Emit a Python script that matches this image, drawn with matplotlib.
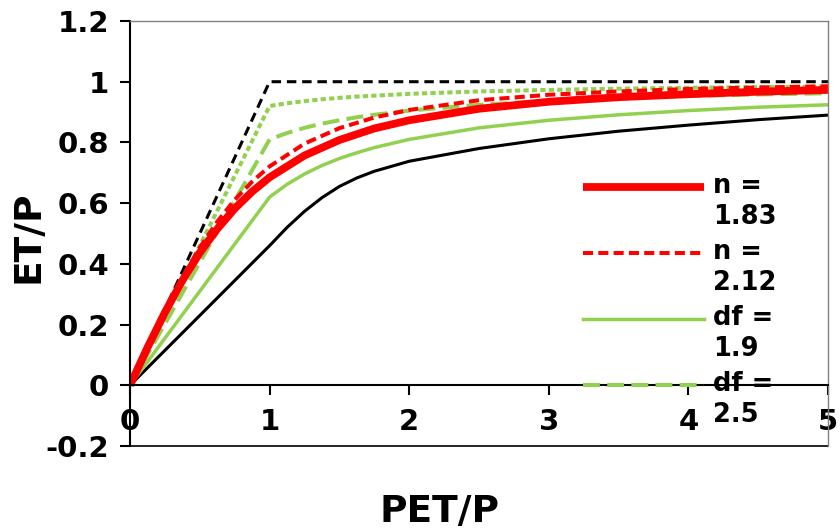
import numpy as np
import matplotlib
matplotlib.use("Agg")
import matplotlib.pyplot as plt
from matplotlib.legend_handler import HandlerLine2D

# ---------------- DATA ----------------
# energy / water limits
limit_x = [0, 1, 5]
limit_y = [0, 1, 1]

# smooth curves (n parameter)
pet_smooth = [0, 0.125, 0.25, 0.375, 0.5, 0.625, 0.75, 0.875, 1,
              1.25, 1.5, 1.75, 2, 2.5, 3, 3.5, 4, 4.5, 5]
et_n183 = [0, 0.124, 0.240, 0.345, 0.437, 0.515, 0.582, 0.638, 0.685,
           0.757, 0.808, 0.846, 0.873, 0.911, 0.934, 0.949, 0.959, 0.967, 0.973]
et_n212 = [0, 0.124, 0.244, 0.355, 0.454, 0.539, 0.611, 0.671, 0.721,
           0.796, 0.847, 0.882, 0.907, 0.939, 0.957, 0.968, 0.976, 0.981, 0.985]

# curves with a break at PET/P = 1
pet_kink = [0, 1, 1.125, 1.25, 1.375, 1.5, 1.625, 1.75, 2, 2.5, 3, 3.5, 4, 4.5, 5]
et_df19 = [0, 0.62, 0.662, 0.696, 0.724, 0.747, 0.766, 0.783, 0.81, 0.848,
           0.873, 0.891, 0.905, 0.916, 0.924]
et_df25 = [0, 0.81, 0.831, 0.848, 0.862, 0.873, 0.883, 0.891, 0.905, 0.924,
           0.937, 0.946, 0.953, 0.958, 0.962]
et_dotted = [0, 0.92, 0.929, 0.936, 0.942, 0.947, 0.951, 0.954, 0.96, 0.968,
             0.973, 0.977, 0.98, 0.982, 0.984]
et_black = [0, 0.46, 0.52, 0.573, 0.618, 0.655, 0.683, 0.705, 0.738, 0.78,
            0.812, 0.837, 0.857, 0.875, 0.89]

x_ticks = [0, 1, 2, 3, 4, 5]
y_ticks = [-0.2, 0, 0.2, 0.4, 0.6, 0.8, 1.0, 1.2]
y_labels = ["-0.2", "0", "0.2", "0.4", "0.6", "0.8", "1", "1.2"]
legend_labels = ["n =\n1.83", "n =\n2.12", "df =\n1.9", "df =\n2.5"]

RED = "#FF0000"
GREEN = "#92D050"


class FirstLineHandler(HandlerLine2D):
    """Put the legend line level with the first text line."""
    def create_artists(self, legend, orig_handle, xdescent, ydescent,
                       width, height, fontsize, trans):
        arts = super().create_artists(legend, orig_handle, xdescent, ydescent,
                                      width, height, fontsize, trans)
        for a in arts:
            a.set_ydata(np.asarray(a.get_ydata()) + 0.62 * fontsize)
        return arts


plt.rcParams["font.family"] = ["DejaVu Sans"]
plt.rcParams["font.weight"] = "bold"

fig = plt.figure(figsize=(8.4, 5.29), dpi=100)
ax = fig.add_axes([130 / 840, 83 / 529, 698 / 840, 425 / 529])

ax.plot(limit_x, limit_y, color="black", lw=2.2, linestyle=(0, (3.1, 1.9)))
ax.plot(pet_kink, et_black, color="black", lw=2.2)
l_df19, = ax.plot(pet_kink, et_df19, color=GREEN, lw=2.5)
l_df25, = ax.plot(pet_kink, et_df25, color=GREEN, lw=2.9, linestyle=(0, (4.2, 1.8)))
ax.plot(pet_kink, et_dotted, color=GREEN, lw=2.9, linestyle=(0, (1.3, 0.8)))
l_n183, = ax.plot(pet_smooth, et_n183, color=RED, lw=5.6, solid_capstyle="butt")
l_n212, = ax.plot(pet_smooth, et_n212, color=RED, lw=2.9, linestyle=(0, (2.5, 1.3)))

ax.set_xlim(0, 5)
ax.set_ylim(-0.2, 1.2)

# x axis drawn at y = 0, plot frame closed at y = -0.2
ax.spines["bottom"].set_position(("data", 0))
ax.spines["bottom"].set_linewidth(1.5)
ax.spines["left"].set_linewidth(1.5)
for s in ["top", "right"]:
    ax.spines[s].set_color("#808080")
    ax.spines[s].set_linewidth(1.0)
ax.axhline(-0.2, color="black", lw=1.2, clip_on=False)

ax.set_xticks(x_ticks)
ax.set_xticklabels([str(v) for v in x_ticks])
ax.set_yticks(y_ticks)
ax.set_yticklabels(y_labels)
ax.tick_params(axis="x", direction="out", length=7, width=1.5, pad=9, labelsize=21)
ax.tick_params(axis="y", direction="out", length=7, width=1.5, pad=8, labelsize=21)

ax.set_xlabel("PET/P", fontsize=27, fontweight="bold")
ax.xaxis.set_label_coords(0.444, -0.155)
ax.xaxis.label.set_va("center")
ax.set_ylabel("ET/P", fontsize=27, fontweight="bold")
ax.yaxis.set_label_coords(-0.145, 0.492)
ax.yaxis.label.set_va("center")

leg = ax.legend([l_n183, l_n212, l_df19, l_df25], legend_labels,
                loc="upper left", bbox_to_anchor=(583 / 840, 1 - 173 / 529),
                bbox_transform=fig.transFigure, frameon=False,
                fontsize=18.5, handlelength=4.7, handletextpad=0.35,
                labelspacing=0.35, borderpad=0, borderaxespad=0,
                handler_map={l: FirstLineHandler() for l in [l_n183, l_n212, l_df19, l_df25]})
for t in leg.get_texts():
    t.set_linespacing(1.25)

fig.savefig("out.png", dpi=100)
